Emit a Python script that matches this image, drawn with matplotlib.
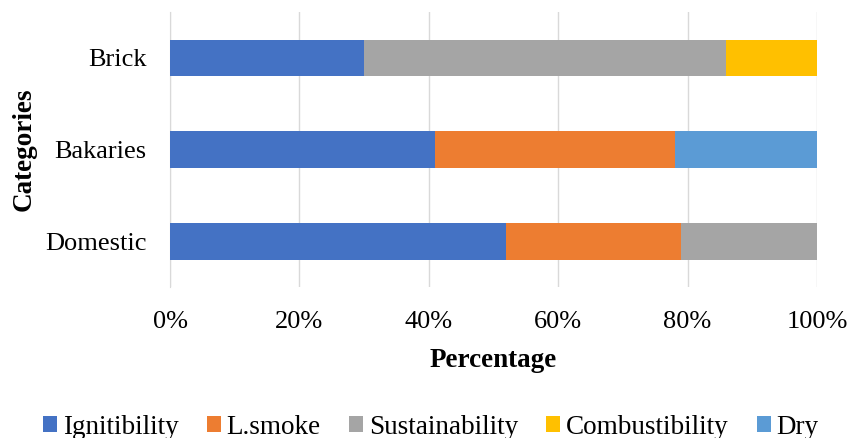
import matplotlib
matplotlib.use('Agg')
import matplotlib.pyplot as plt
from matplotlib.ticker import PercentFormatter
import numpy as np

plt.rcParams['font.family'] = ['Liberation Serif', 'DejaVu Serif']

categories = ['Domestic', 'Bakaries', 'Brick']
series = ['Ignitibility', 'L.smoke', 'Sustainability', 'Combustibility', 'Dry']
ignitibility = [52, 41, 30]
lsmoke = [27, 37, 0]
sustainability = [21, 0, 56]
combustibility = [0, 0, 14]
dry = [0, 22, 0]
colors = ['#4472C4', '#ED7D31', '#A5A5A5', '#FFC000', '#5B9BD5']

values = [ignitibility, lsmoke, sustainability, combustibility, dry]

fig = plt.figure(figsize=(8.47, 4.38), dpi=100)
ax = fig.add_axes([170 / 847, 1 - 287 / 438, 647 / 847, 275 / 438])

y = np.arange(len(categories))
left = np.zeros(len(categories))
for name, vals, c in zip(series, values, colors):
    ax.barh(y, vals, left=left, height=0.4, color=c, label=name, zorder=3)
    left += np.array(vals)

ax.set_xlim(0, 100)
ax.set_ylim(-0.5, 2.5)
ax.set_xticks(np.arange(0, 101, 20))
ax.xaxis.set_major_formatter(PercentFormatter(decimals=0))
ax.set_yticks(y)
ax.set_yticklabels(categories)
ax.grid(axis='x', color='#D9D9D9', linewidth=1, zorder=0)
for s in ['top', 'right', 'bottom']:
    ax.spines[s].set_visible(False)
ax.spines['left'].set_color('#D9D9D9')
ax.tick_params(axis='both', length=0, labelsize=19)
ax.tick_params(axis='x', pad=17)
ax.tick_params(axis='y', pad=17)
ax.set_xlabel('Percentage', fontsize=19.5, fontweight='bold', labelpad=11)
ax.set_ylabel('Categories', fontsize=19.5, fontweight='bold', labelpad=6)

fig.legend(loc='center', bbox_to_anchor=(0.509, 1 - 427 / 438), ncol=5, frameon=False,
           fontsize=19.5, handlelength=0.5, handleheight=0.5, handletextpad=0.22,
           columnspacing=1.05, borderaxespad=0, borderpad=0)

fig.savefig('out.png', dpi=100)
